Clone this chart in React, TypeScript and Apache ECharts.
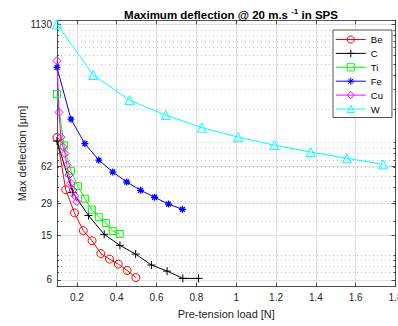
import React, { useEffect, useRef } from "react";
import * as echarts from "echarts";

const seriesNames = ["Be", "C", "Ti", "Fe", "Cu", "W"];
const seriesColors = ["#ff0000", "#000000", "#00ff00", "#0000ff", "#ff00ff", "#00ffff"];

const beLoad = [0.1, 0.144, 0.188, 0.232, 0.276, 0.32, 0.364, 0.408, 0.452, 0.496];
const beDefl = [111, 38.1, 23.7, 16.5, 13.4, 10.3, 9.2, 8.3, 7.3, 6.3];

const cLoad = [0.1, 0.179, 0.258, 0.337, 0.416, 0.495, 0.574, 0.653, 0.732, 0.811];
const cDefl = [103.5, 36, 22.5, 15.3, 12.2, 10.2, 8.15, 7.2, 6.2, 6.2];

const tiLoad = [0.1, 0.135, 0.17, 0.205, 0.24, 0.275, 0.31, 0.345, 0.38, 0.415];
const tiDefl = [271, 94.6, 56.2, 41, 31.7, 25.4, 21.7, 19.3, 16.4, 15.4];

const feLoad = [0.1, 0.17, 0.24, 0.31, 0.38, 0.45, 0.52, 0.59, 0.66, 0.73];
const feDefl = [468, 162, 98, 70, 54.8, 44.7, 37.7, 32.7, 28.4, 25.5];

const cuLoad = [0.1, 0.11, 0.12, 0.13, 0.14, 0.15, 0.16, 0.17, 0.18, 0.19, 0.2];
const cuDefl = [536, 186, 112, 92, 80, 63, 51.5, 43.5, 37.9, 33.7, 29.9];

const wLoad = [0.1, 0.282, 0.464, 0.646, 0.828, 1.01, 1.192, 1.374, 1.556, 1.738];
const wDefl = [1130, 400, 239, 176, 136, 112, 95, 82.6, 72.6, 64.1];

const yMajorTicks = [6, 15, 29, 62, 1130];
const yMinorTicks = [7, 8, 9, 10, 20, 30, 40, 50, 60, 70, 80, 90, 100, 200, 300, 400, 500, 600, 700, 800, 900, 1000];
const xTicks = [0.2, 0.4, 0.6, 0.8, 1, 1.2, 1.4, 1.6, 1.8];
const xRange = [0.1, 1.8];
const yRange = [5.23, 1227];

const FONT = "Liberation Sans, Arial, Helvetica, sans-serif";
const AX = "#262626";
const GRID_MAJOR = "#dfdfdf";
const GRID_MINOR = "#c4c4c4";
const CLEAR = "rgba(255,255,255,0)";

export default function App() {
  const ref = useRef<HTMLDivElement>(null);
  useEffect(() => {
    const chart = echarts.init(ref.current!, null, { renderer: "svg" });
    const lg = (v: number) => Math.log10(v);
    const lmin = lg(yRange[0]);
    const lmax = lg(yRange[1]);
    const majorLog = yMajorTicks.map(lg);
    const minorLog = yMinorTicks.map(lg);
    const pairs = (xs: number[], ys: number[]) => xs.map((x, i) => [x, ys[i]]);
    const plus = "path://M5,0L5,10M0,5L10,5";
    const star = "path://M5,0L5,10M0,5L10,5M1.5,1.5L8.5,8.5M1.5,8.5L8.5,1.5";

    const loads = [beLoad, cLoad, tiLoad, feLoad, cuLoad, wLoad];
    const defls = [beDefl, cDefl, tiDefl, feDefl, cuDefl, wDefl];
    const symbols = ["circle", plus, "rect", star, "diamond", "triangle"];
    const sizes = [8, 8, 7, 7, 8, 9];

    const decoY = (position: string, ticks: number[], len: number, extra: any) => ({
      type: "value",
      min: lmin,
      max: lmax,
      position,
      axisLine: { show: false },
      axisTick: { show: true, inside: true, length: len, customValues: ticks, lineStyle: { color: AX, width: 0.8 } },
      axisLabel: { show: false },
      splitLine: { show: false },
      ...extra,
    });

    chart.setOption({
      animation: false,
      textStyle: { fontFamily: FONT },
      title: {
        text: "Maximum deflection @ 20 m.s {sup|-1} in SPS",
        left: 226,
        top: 2,
        textAlign: "center",
        textStyle: {
          fontFamily: FONT,
          fontSize: 11.5,
          fontWeight: "bold",
          color: "#000",
          lineHeight: 16,
          rich: {
            sup: { fontFamily: FONT, fontSize: 8, fontWeight: "bold", color: "#000", verticalAlign: "top", lineHeight: 9 },
          },
        },
      },
      grid: { left: 57, right: 2.5, top: 20.3, bottom: 39.3, containLabel: false, outerBoundsMode: "none" },
      legend: {
        orient: "vertical",
        left: 333,
        top: 30,
        data: seriesNames,
        itemWidth: 30,
        itemHeight: 9,
        itemGap: 3.9,
        padding: [4.5, 9, 3.5, 2.3],
        borderColor: AX,
        borderWidth: 0.8,
        backgroundColor: "#fff",
        itemStyle: { borderWidth: 1 },
        lineStyle: { width: 1 },
        textStyle: { fontFamily: FONT, fontSize: 9.5, color: "#000" },
      },
      xAxis: [
        {
          type: "value",
          min: xRange[0],
          max: xRange[1],
          position: "bottom",
          name: "Pre-tension load [N]",
          nameLocation: "middle",
          nameGap: 22,
          nameMoveOverlap: false,
          nameTextStyle: { fontFamily: FONT, fontSize: 11, color: AX },
          axisLine: { show: true, lineStyle: { color: AX, width: 0.8 } },
          axisTick: { show: true, inside: true, length: 4, customValues: xTicks, lineStyle: { color: AX, width: 0.8 } },
          axisLabel: {
            customValues: xTicks,
            margin: 6,
            fontFamily: FONT,
            fontSize: 10,
            color: AX,
            formatter: (v: number) => String(+v.toFixed(1)),
          },
          splitLine: { show: true, lineStyle: { color: GRID_MAJOR, width: 1 } },
        },
        {
          type: "value",
          min: xRange[0],
          max: xRange[1],
          position: "top",
          axisLine: { show: true, lineStyle: { color: AX, width: 0.8 } },
          axisTick: { show: true, inside: true, length: 4, customValues: xTicks, lineStyle: { color: AX, width: 0.8 } },
          axisLabel: { show: false },
          splitLine: { show: false },
        },
      ],
      yAxis: [
        {
          type: "log",
          logBase: 10,
          min: yRange[0],
          max: yRange[1],
          show: false,
          splitLine: { show: false },
        },
        {
          type: "value",
          min: lmin,
          max: lmax,
          position: "left",
          name: "Max deflection [\u03bcm]",
          nameLocation: "middle",
          nameGap: 30,
          nameMoveOverlap: false,
          nameTextStyle: { fontFamily: FONT, fontSize: 11, color: AX },
          axisLine: { show: true, lineStyle: { color: AX, width: 0.8 } },
          axisTick: { show: true, inside: true, length: 4, customValues: majorLog, lineStyle: { color: AX, width: 0.8 } },
          axisLabel: {
            customValues: majorLog,
            margin: 5,
            fontFamily: FONT,
            fontSize: 10,
            color: AX,
            formatter: (v: number) => String(Math.round(Math.pow(10, v))),
          },
          splitLine: { show: true, lineStyle: { color: GRID_MAJOR, width: 1 } },
        },
        decoY("left", minorLog, 2, {
          splitLine: { show: true, lineStyle: { color: GRID_MINOR, width: 1, type: [1, 3] } },
        }),
        decoY("right", majorLog, 4, { axisLine: { show: true, lineStyle: { color: AX, width: 0.8 } } }),
        decoY("right", minorLog, 2, {}),
      ],
      series: seriesNames.map((name, i) => ({
        name,
        type: "line",
        xAxisIndex: 0,
        yAxisIndex: 0,
        data: pairs(loads[i], defls[i]),
        symbol: symbols[i],
        symbolSize: sizes[i],
        showSymbol: true,
        lineStyle: { color: seriesColors[i], width: 1 },
        itemStyle: { color: CLEAR, borderColor: seriesColors[i], borderWidth: i === 3 ? 1.3 : 1 },
        emphasis: { disabled: true },
        clip: false,
      })),
    });
    return () => chart.dispose();
  }, []);
  return <div ref={ref} style={{ position: "absolute", left: 0, top: 0, width: 398, height: 326 }} />;
}
